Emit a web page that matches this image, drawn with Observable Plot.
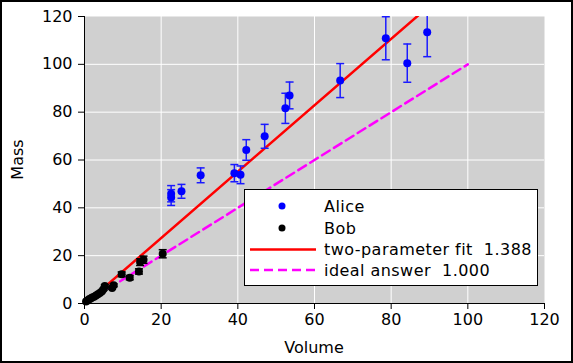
<!DOCTYPE html>
<html>
<head>
<meta charset="utf-8">
<script src="https://cdn.jsdelivr.net/npm/d3@7"></script>
<script src="https://cdn.jsdelivr.net/npm/@observablehq/plot@0.6"></script>
<style>
  html, body { margin: 0; padding: 0; background: white; }
  svg { display: block; }
</style>
</head>
<body>
<script>
// ---- data ----
const aliceX   = [22.6, 22.6, 25.3, 30.3, 39.1, 40.7, 42.2, 47.0, 52.4, 53.5, 66.7, 78.6, 84.2, 89.4];
const aliceY   = [45.9, 44.3, 46.9, 53.6, 54.5, 53.8, 64.2, 69.9, 81.6, 87.0, 93.2, 110.9, 100.5, 113.4];
const aliceErr = [3.4, 3.3, 2.9, 3.1, 3.6, 3.7, 4.3, 5.0, 6.3, 5.6, 7.1, 9.0, 8.0, 10.2];

const bobX   = [0.4, 0.8, 1.2, 1.6, 2.0, 2.5, 3.0, 3.5, 4.0, 4.5, 5.0, 5.3, 7.2, 7.6, 9.7, 11.8, 14.2, 14.5, 15.4, 20.4];
const bobY   = [0.8, 1.3, 1.8, 2.1, 2.5, 2.8, 3.3, 3.9, 4.4, 5.0, 6.1, 7.3, 6.5, 7.6, 12.2, 10.8, 13.4, 17.3, 18.3, 20.8];
const bobErr = [0.1, 0.1, 0.2, 0.2, 0.2, 0.2, 0.3, 0.3, 0.4, 0.4, 0.5, 0.6, 0.5, 0.6, 1.0, 0.9, 1.1, 1.4, 1.5, 1.7];

const fitSlope = 1.388, fitIntercept = -0.4;
const idealSlope = 1.0;
const lineX = [0, 100];

const xTicks = [0, 20, 40, 60, 80, 100, 120];
const yTicks = [0, 20, 40, 60, 80, 100, 120];

const legendLabels = ["Alice", "Bob", "two-parameter fit  1.388", "ideal answer  1.000"];

// ---- tables ----
const alice = aliceX.map((x, i) => ({x, y: aliceY[i], lo: aliceY[i] - aliceErr[i], hi: aliceY[i] + aliceErr[i]}));
const bob = bobX.map((x, i) => ({x, y: bobY[i], lo: bobY[i] - bobErr[i], hi: bobY[i] + bobErr[i]}));
const fitLine = lineX.map(x => ({x, y: fitIntercept + fitSlope * x}));
const idealLine = lineX.map(x => ({x, y: idealSlope * x}));

const capSymbol = {
  draw(ctx, size) {
    const w = Math.sqrt(size / Math.PI);
    ctx.moveTo(-w, 0);
    ctx.lineTo(w, 0);
  }
};

const W = 573, H = 363;
const mL = 84, mR = 29, mT = 16, mB = 60;

const errMarks = (data, color) => [
  Plot.ruleX(data, {x: "x", y1: "lo", y2: "hi", stroke: color, strokeWidth: 1.5, clip: true}),
  Plot.dot(data, {x: "x", y: "lo", symbol: capSymbol, r: 4, stroke: color, strokeWidth: 1.5, fill: "none", clip: true}),
  Plot.dot(data, {x: "x", y: "hi", symbol: capSymbol, r: 4, stroke: color, strokeWidth: 1.5, fill: "none", clip: true})
];

const chart = Plot.plot({
  width: W, height: H,
  marginLeft: mL, marginRight: mR, marginTop: mT, marginBottom: mB,
  x: {domain: [0, 120]},
  y: {domain: [0, 120]},
  style: {fontFamily: "DejaVu Sans", fontSize: "16px", background: "white", color: "black"},
  marks: [
    Plot.frame({fill: "#d0d0d0", stroke: null}),
    Plot.gridX(xTicks.filter(d => d > 0 && d < 120), {stroke: "white", strokeOpacity: 1, strokeWidth: 1}),
    Plot.gridY(yTicks.filter(d => d > 0 && d < 120), {stroke: "white", strokeOpacity: 1, strokeWidth: 1}),
    Plot.line(fitLine, {x: "x", y: "y", stroke: "#ff0000", strokeWidth: 2.5, clip: true}),
    Plot.line(idealLine, {x: "x", y: "y", stroke: "#ff00ff", strokeWidth: 2.5, strokeDasharray: "9,5", clip: true}),
    ...errMarks(alice, "#1a1aff"),
    Plot.dot(alice, {x: "x", y: "y", r: 4, fill: "#0000ff", stroke: null}),
    ...errMarks(bob, "#000000"),
    Plot.dot(bob, {x: "x", y: "y", r: 4, fill: "#000000", stroke: null}),
    Plot.ruleY([0], {stroke: "black", strokeWidth: 1}),
    Plot.ruleX([0], {stroke: "black", strokeWidth: 1}),
    Plot.axisX({ticks: xTicks, tickSize: 6, tickPadding: 4, label: null, fontSize: 16}),
    Plot.axisY({ticks: yTicks, tickSize: 6, tickPadding: 6, label: null, fontSize: 16})
  ]
});

document.body.appendChild(chart);

// axis titles, legend, outer border
const svg = d3.select(chart);
const cx = (mL + (W - mR)) / 2, cy = (mT + (H - mB)) / 2;
svg.append("text").attr("x", cx).attr("y", 353).attr("text-anchor", "middle")
  .attr("font-family", "DejaVu Sans").attr("font-size", 16).attr("fill", "black").text("Volume");
svg.append("text").attr("transform", `translate(23,${cy}) rotate(-90)`).attr("text-anchor", "middle")
  .attr("font-family", "DejaVu Sans").attr("font-size", 16).attr("fill", "black").text("Mass");

const lg = svg.append("g").attr("font-family", "DejaVu Sans").attr("font-size", 16)
  .attr("fill", "black").attr("text-anchor", "start");
lg.append("rect").attr("x", 244.5).attr("y", 189.5).attr("width", 293).attr("height", 96)
  .attr("fill", "white").attr("stroke", "black").attr("stroke-width", 1);
const rowsY = [206, 228, 249.5, 270];
lg.append("circle").attr("cx", 282).attr("cy", rowsY[0]).attr("r", 3.5).attr("fill", "#0000ff");
lg.append("circle").attr("cx", 282).attr("cy", rowsY[1]).attr("r", 3.5).attr("fill", "#000000");
lg.append("line").attr("x1", 250).attr("x2", 316).attr("y1", rowsY[2]).attr("y2", rowsY[2])
  .attr("stroke", "#ff0000").attr("stroke-width", 2.5);
lg.append("line").attr("x1", 250).attr("x2", 316).attr("y1", rowsY[3]).attr("y2", rowsY[3])
  .attr("stroke", "#ff00ff").attr("stroke-width", 2.5).attr("stroke-dasharray", "9,5");
legendLabels.forEach((t, i) => {
  lg.append("text").attr("x", 324).attr("y", rowsY[i]).attr("dy", "0.35em")
    .attr("text-anchor", "start").attr("letter-spacing", "0.45px").style("white-space", "pre").text(t);
});

svg.append("rect").attr("x", 1).attr("y", 1).attr("width", W - 2).attr("height", H - 2)
  .attr("fill", "none").attr("stroke", "black").attr("stroke-width", 2);
</script>
</body>
</html>
